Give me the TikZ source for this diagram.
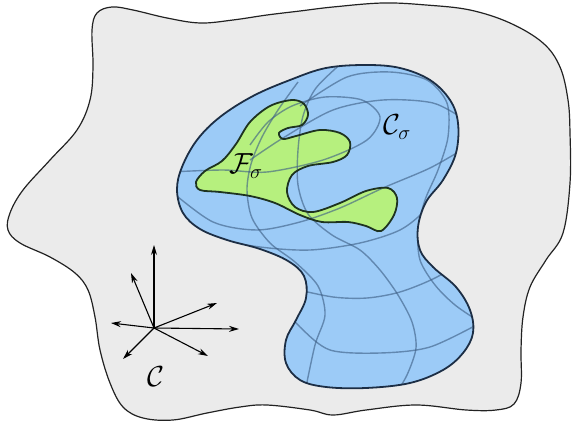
\documentclass[tikz,border=0pt]{standalone}
\usepackage{fix-cm}
\usepackage{amsmath,amssymb}
\usepackage{graphicx}
\usepackage{xcolor}
\usepackage{tikz}
\usetikzlibrary{arrows.meta}
\definecolor{SpaceGrey}{HTML}{EBEBEB}
\definecolor{ChartBlue}{HTML}{9CCBF7}
\definecolor{FeasGreen}{HTML}{B6F07E}
\definecolor{Ink}{HTML}{222222}
\definecolor{ChartInk}{HTML}{1C2E45}
\definecolor{FeasInk}{HTML}{1E3320}
\definecolor{MeshBlue}{HTML}{3E5F86}
\newcommand{\setname}[1]{\scalebox{1.12}{$#1$}}
\tikzset{
  spacefill/.style={fill=SpaceGrey, draw=Ink, line width=1.2pt},
  chartfill/.style={fill=ChartBlue},
  chartedge/.style={draw=ChartInk, line width=1.8pt},
  feasfill/.style={fill=FeasGreen},
  feasedge/.style={draw=FeasInk, line width=1.8pt},
  meshline/.style={draw=MeshBlue, line width=1.4pt, opacity=0.62},
  vecarrow/.style={draw=black, line width=1.1pt, -{Stealth[length=10pt,width=6pt]}},
  setlabel/.style={font=\fontsize{26}{30}\selectfont, inner sep=0pt}
}
\newcommand{\spacepath}{plot[smooth cycle, tension=0.6] coordinates {
  (97,13) (112,7) (133,10) (167,18) (200,23) (233,20) (267,15) (300,11) (333,7)
  (383,3) (426,5) (470,10) (510,23) (543,43) (560,67) (568,100) (570,133)
  (570,183) (563,233) (546,260) (530,287) (523,317) (521,350) (521,383)
  (514,404) (496,410) (466,410) (416,405) (366,410) (333,415) (310,410)
  (267,405) (240,407) (207,413) (173,420) (143,418) (123,407) (110,383)
  (100,350) (95,317) (88,290) (75,273) (50,257) (20,243) (8,230) (10,213)
  (23,190) (50,160) (77,130) (90,100) (93,67) (92,30)}}
\newcommand{\chartpath}{plot[smooth cycle, tension=0.6] coordinates {
  (290,80) (326,68) (366,65) (400,68) (430,80) (450,100) (458,123) (456,153)
  (443,180) (426,202) (418,227) (420,250) (433,267) (456,287) (470,310)
  (473,333) (463,353) (443,370) (410,383) (366,388) (326,387) (300,380)
  (286,363) (286,340) (296,320) (306,298) (304,276) (288,261) (260,249)
  (227,240) (200,229) (183,213) (177,190) (182,167) (197,140) (220,117)
  (253,96)}}
\newcommand{\feaspath}{plot[smooth cycle, tension=0.55] coordinates {
  (196,182) (205,171) (222,161) (236,144) (250,122) (270,106) (292,100)
  (304,104) (308,115) (302,125) (288,128) (279,133) (283,139) (296,136)
  (320,130) (340,133) (350,142) (347,155) (333,162) (308,166) (292,175)
  (287,192) (295,207) (313,212) (340,203) (366,191) (388,188) (397,198)
  (394,215) (381,231) (366,226) (348,222) (322,222) (300,215) (275,203)
  (250,196) (220,192) (200,190)}}

\begin{document}
\begin{tikzpicture}[x=1bp, y=-1bp]
  \useasboundingbox (0,0) rectangle (573,435);

  % ambient space
  \path[spacefill] \spacepath;

  % chart and feasible set
  \path[chartfill] \chartpath;
  \path[feasfill] \feaspath;
  \begin{scope}
    \clip \chartpath;
    % longitudes
    \draw[meshline] plot[smooth] coordinates {(298,82) (278,110) (262,137) (251,164)
      (247,190) (252,218) (270,243) (295,262) (318,286) (325,315) (315,345) (305,392)};
    \draw[meshline] plot[smooth] coordinates {(345,60) (316,88) (303,116) (298,150)
      (298,185) (308,214) (332,235) (360,250) (380,270) (398,295) (412,322)
      (416,348) (407,375) (395,395)};
    \draw[meshline] plot[smooth] coordinates {(300,106) (347,77) (390,72) (427,80)
      (447,103) (448,137) (438,170) (425,200) (418,230) (420,260) (435,285)
      (455,305) (480,322)};
    % latitudes
    \draw[meshline] plot[smooth] coordinates {(170,172) (223,170) (267,172) (323,160)
      (367,140) (380,117) (362,100) (325,97) (292,106) (268,122) (250,145)};
    \draw[meshline] plot[smooth] coordinates {(250,160) (283,138) (333,110) (383,100)
      (433,103) (465,120)};
    \draw[meshline] plot[smooth] coordinates {(172,192) (213,222) (257,230) (300,222)
      (340,208) (383,188) (430,168) (465,148)};
    \draw[meshline] plot[smooth] coordinates {(195,236) (260,247) (310,250) (360,243)
      (400,230) (425,210) (442,182)};
    \draw[meshline] plot[smooth] coordinates {(290,288) (333,297) (367,298) (400,292)
      (435,278) (472,256)};
    \draw[meshline] plot[smooth] coordinates {(282,305) (300,327) (330,350) (380,353)
      (430,347) (482,322)};
  \end{scope}
  \path[feasedge] \feaspath;
  \path[chartedge] \chartpath;

  \node[setlabel] (fsig) at (246,166) {\setname{\mathcal{F}_\sigma}};
  \node[setlabel] (csig) at (397,127) {\setname{\mathcal{C}_\sigma}};

  % tangent directions
  \coordinate (o) at (154,328);
  \coordinate (v1) at (154,245);
  \coordinate (v2) at (131,273);
  \coordinate (v3) at (111,323);
  \coordinate (v4) at (217,303);
  \coordinate (v5) at (239,329);
  \coordinate (v6) at (208,356);
  \coordinate (v7) at (123,359);
  \foreach \i in {1,...,7}
    \draw[vecarrow] (o) -- (v\i);
  \node[setlabel] (cone) at (156,377) {\setname{\mathcal{C}}};
\end{tikzpicture}
\end{document}
